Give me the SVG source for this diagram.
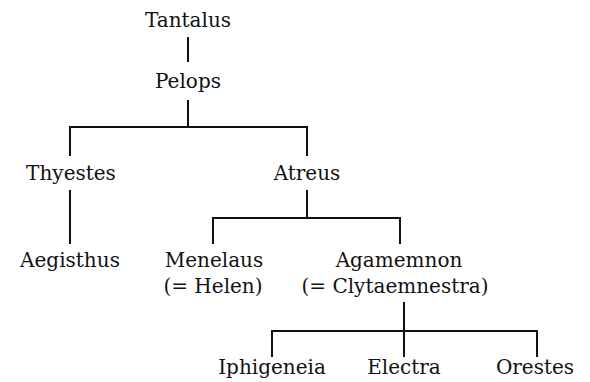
<svg xmlns="http://www.w3.org/2000/svg" width="590" height="382" viewBox="0 0 590 382">
<style>
.t{font-family:'DejaVu Serif',serif;font-size:20px;fill:#111;text-anchor:middle}
.c line{stroke:#111;stroke-width:2;fill:none}
</style>
<rect width="590" height="382" fill="#fff"/>
<g class="c" id="connectors">
<line x1="188" y1="37" x2="188" y2="62"/>
<line x1="188" y1="100" x2="188" y2="128"/>
<line x1="70" y1="127" x2="307" y2="127"/>
<line x1="70" y1="126" x2="70" y2="156"/>
<line x1="307" y1="126" x2="307" y2="156"/>
<line x1="70" y1="190" x2="70" y2="244"/>
<line x1="307" y1="190" x2="307" y2="219"/>
<line x1="213" y1="218" x2="400" y2="218"/>
<line x1="213" y1="217" x2="213" y2="244"/>
<line x1="400" y1="217" x2="400" y2="244"/>
<line x1="404" y1="302" x2="404" y2="357"/>
<line x1="272" y1="331" x2="537" y2="331"/>
<line x1="272" y1="330" x2="272" y2="357"/>
<line x1="537" y1="330" x2="537" y2="357"/>
</g>
<g class="t">
<g id="tantalus"><text x="188" y="27">Tantalus</text></g>
<g id="pelops"><text x="188" y="88">Pelops</text></g>
<g id="thyestes"><text x="71" y="180">Thyestes</text></g>
<g id="atreus"><text x="307" y="180">Atreus</text></g>
<g id="aegisthus"><text x="70" y="267">Aegisthus</text></g>
<g id="menelaus"><text x="214" y="267">Menelaus</text><text x="213" y="293">(= Helen)</text></g>
<g id="agamemnon"><text x="399" y="267">Agamemnon</text><text x="395" y="293">(= Clytaemnestra)</text></g>
<g id="iphigeneia"><text x="272" y="374">Iphigeneia</text></g>
<g id="electra"><text x="404" y="374">Electra</text></g>
<g id="orestes"><text x="535" y="374">Orestes</text></g>
</g>
</svg>
